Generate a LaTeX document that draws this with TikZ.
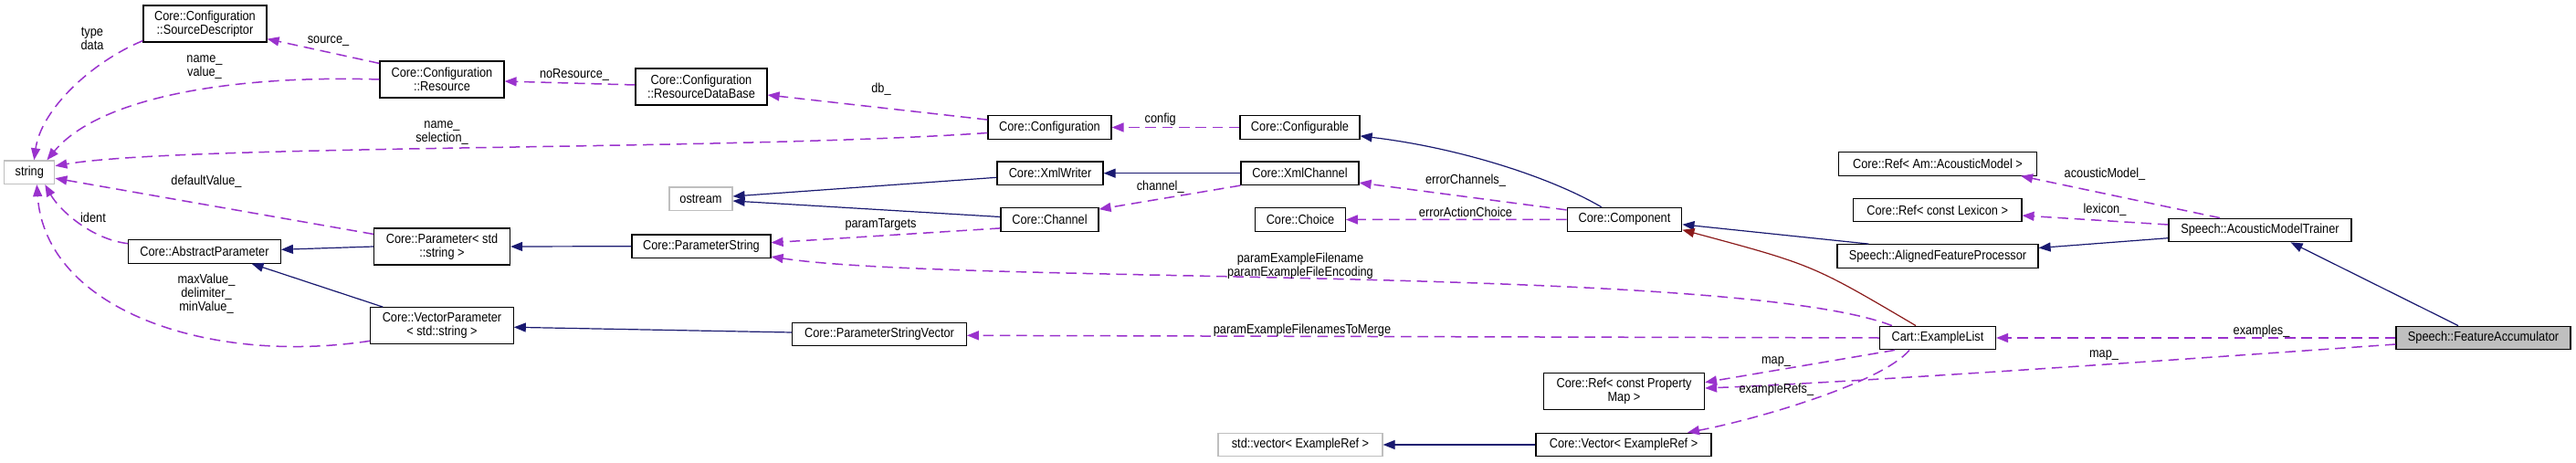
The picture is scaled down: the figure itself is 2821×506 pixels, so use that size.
\documentclass[tikz,border=0pt]{standalone}
\usepackage{fontspec}
\setmainfont[FakeStretch=0.88]{Liberation Sans}
\usetikzlibrary{arrows.meta,calc}
\definecolor{Usage}{HTML}{9A32CD}
\definecolor{Inherit}{HTML}{191970}
\definecolor{Protect}{HTML}{8B1A1A}
\definecolor{Frame}{HTML}{BFBFBF}
\definecolor{Current}{HTML}{BFBFBF}
\newcommand\dxfont{\fontsize{14.5}{15}\selectfont}
\tikzset{cls/.style={rectangle,draw=black,line width=1.2pt,fill=white,align=center,inner sep=0pt,minimum height=25.6,font=\dxfont},twoline/.style={minimum height=40},extcls/.style={cls,draw=Frame},curcls/.style={cls,fill=Current},uses/.style={draw=Usage,line width=1.5pt,dash pattern=on 11.5pt off 6.8pt,-{Triangle[length=13pt,width=10pt]}},inherits/.style={draw=Inherit,line width=1.2pt,-{Triangle[length=13pt,width=10pt]}},protinherits/.style={draw=Protect,line width=1.2pt,-{Triangle[length=13pt,width=10pt]}},lbl/.style={align=center,inner sep=0pt,font=\dxfont,text=black}}

\begin{document}
\begin{tikzpicture}[x=1pt,y=-1pt]
\fill[white] (0,0) rectangle (2821,506);\useasboundingbox (0,0) rectangle (2821,506);
% classes
\node[extcls,minimum width=55] (str) at (32.3,188.7) {string};
\node[cls,twoline,minimum width=135] (SrcD) at (224.5,26) {Core::Configuration\\::SourceDescriptor};
\node[cls,twoline,minimum width=136] (Res) at (484,87) {Core::Configuration\\::Resource};
\node[cls,twoline,minimum width=144] (RDB) at (768,95) {Core::Configuration\\::ResourceDataBase};
\node[cls,minimum width=135] (Conf) at (1149.5,139.5) {Core::Configuration};
\node[cls,minimum width=131] (Cfgb) at (1423.5,139.5) {Core::Configurable};
\node[cls,minimum width=116] (XmlW) at (1150,189.7) {Core::XmlWriter};
\node[cls,minimum width=129] (XmlCh) at (1423.5,189.7) {Core::XmlChannel};
\node[extcls,minimum width=69] (ostr) at (767.5,217.7) {ostream};
\node[cls,minimum width=107] (Chan) at (1149.5,240.5) {Core::Channel};
\node[cls,minimum width=98.5] (Choice) at (1424,240.5) {Core::Choice};
\node[cls,minimum width=125.7] (Comp) at (1779,240.3) {Core::Component};
\node[cls,minimum width=217] (RefAM) at (2122,179.3) {Core::Ref< Am::AcousticModel >};
\node[cls,minimum width=184.4] (RefLex) at (2121.7,230) {Core::Ref< const Lexicon >};
\node[cls,minimum width=200] (AMT) at (2475,252) {Speech::AcousticModelTrainer};
\node[cls,minimum width=220] (AFP) at (2122,280.5) {Speech::AlignedFeatureProcessor};
\node[curcls,minimum width=191] (FA) at (2719.5,370) {Speech::FeatureAccumulator};
\node[cls,minimum width=127] (EL) at (2122,370) {Cart::ExampleList};
\node[cls,twoline,minimum width=176] (RefPM) at (1778.5,428.7) {Core::Ref< const Property\\Map >};
\node[cls,minimum width=192] (Vec) at (1778,487) {Core::Vector< ExampleRef >};
\node[extcls,minimum width=180] (StdVec) at (1424,487) {std::vector< ExampleRef >};
\node[cls,minimum width=152] (PS) at (768,269.7) {Core::ParameterString};
\node[cls,minimum width=190.6] (PSV) at (963,366) {Core::ParameterStringVector};
\node[cls,minimum width=166.6] (AbsP) at (224,275.3) {Core::AbstractParameter};
\node[cls,twoline,minimum width=149] (Param) at (484,270) {Core::Parameter< std\\::string >};
\node[cls,twoline,minimum width=156.4] (VecP) at (484,356.7) {Core::VectorParameter\\< std::string >};
% inheritance
\draw[inherits] ($(Comp.north)+(-25,0)$) .. controls (1700,195) and (1600,162) .. ($(Cfgb.south east)+(0,-4)$);
\draw[inherits] (XmlCh.west) -- (XmlW.east);
\draw[inherits] ($(XmlW.west)+(0,4.6)$) -- ($(ostr.east)+(0,-2.7)$);
\draw[inherits] ($(Chan.west)+(0,-3)$) -- ($(ostr.east)+(0,2.3)$);
\draw[inherits] ($(AFP.north west)+(35,0)$) -- ($(Comp.east)+(0,5.5)$);
\draw[protinherits] ($(EL.north)+(-24,0)$) .. controls (1985,290) .. ($(Comp.south east)+(0,-2)$);
\draw[inherits] (Vec.west) -- (StdVec.east);
\draw[inherits] (PS.west) -- (Param.east);
\draw[inherits] (Param.west) -- ($(AbsP.east)+(0,-2)$);
\draw[inherits] ($(VecP.north west)+(14,0)$) -- ($(AbsP.south)+(51.5,0)$);
\draw[inherits] ($(PSV.west)+(0,-2)$) -- ($(VecP.east)+(0,1.6)$);
\draw[inherits] ($(AMT.west)+(0,8.7)$) -- ($(AFP.east)+(0,-9)$);
\draw[inherits] ($(FA.north)+(-27.5,0)$) -- ($(AMT.south)+(33.6,0)$);
% members
\draw[uses] ($(SrcD.south west)+(0,-2)$) .. controls (100,68) and (45,120) .. ($(str.north)+(5,0)$);
\draw[uses] ($(Res.north west)+(0,3)$) -- ($(SrcD.south east)+(0,-4)$);
\draw[uses] (Res.west) .. controls (260,82) and (110,105) .. ($(str.north east)+(-9,0)$);
\draw[uses] ($(RDB.west)+(0,-2)$) -- ($(Res.east)+(0,2)$);
\draw[uses] ($(Conf.north west)+(0,5)$) -- ($(RDB.east)+(0,9)$);
\draw[uses] ($(Conf.west)+(0,6)$) .. controls (800,165) and (200,158) .. ($(str.east)+(0,-7)$);
\draw[uses] (Cfgb.west) -- (Conf.east);
\draw[uses] (XmlCh.south west) -- ($(Chan.north east)+(0,2)$);
\draw[uses] ($(Chan.south west)+(0,-4)$) -- ($(PS.east)+(0,-4)$);
\draw[uses] ($(Comp.north west)+(0,3)$) -- ($(XmlCh.south east)+(0,-3)$);
\draw[uses] (Comp.west) -- (Choice.east);
\draw[uses] ($(EL.north west)+(14,0)$) .. controls (1900,290) and (1050,312) .. ($(PS.south east)+(0,-2)$);
\draw[uses] (EL.west) -- ($(PSV.east)+(0,1.3)$);
\draw[uses] ($(EL.south west)+(17,0)$) -- ($(RefPM.east)+(0,-10)$);
\draw[uses] ($(EL.south)+(-31,0)$) .. controls (2060,420) and (1920,460) .. ($(Vec.north)+(70,0)$);
\draw[uses] ($(Param.north west)+(0,7)$) -- ($(str.east)+(0,6.5)$);
\draw[uses] ($(AbsP.west)+(0,-8.6)$) .. controls (100,262) and (65,230) .. ($(str.south)+(17,0)$);
\draw[uses] ($(VecP.south west)+(0,-4)$) .. controls (230,400) and (50,340) .. ($(str.south)+(8,0)$);
\draw[uses] ($(AMT.north)+(-44,0)$) -- ($(RefAM.south east)+(-18,0)$);
\draw[uses] ($(AMT.west)+(0,-6)$) -- ($(RefLex.east)+(0,6)$);
\draw[uses] (FA.west) -- (EL.east);
\draw[uses] ($(FA.west)+(0,7)$) .. controls (2300,400) and (2000,420) .. ($(RefPM.east)+(0,-3.7)$);
% member names
\node[lbl] (lTypeData) at (101,42) {type\\data};
\node[lbl] (lSource) at (359.5,45) {source\_};
\node[lbl] (lNameValue) at (224,73.5) {name\_\\value\_};
\node[lbl] (lNoRes) at (629,81.7) {noResource\_};
\node[lbl] (lDb) at (965,98) {db\_};
\node[lbl] (lNameSel) at (484,146) {name\_\\selection\_};
\node[lbl] (lConfig) at (1270.7,130.7) {config};
\node[lbl] (lChannel) at (1270.7,204.3) {channel\_};
\node[lbl] (lParamTargets) at (964.5,246) {paramTargets};
\node[lbl] (lErrChan) at (1605,198) {errorChannels\_};
\node[lbl] (lErrAct) at (1605,232) {errorActionChoice};
\node[lbl] (lDefault) at (226,199) {defaultValue\_};
\node[lbl] (lIdent) at (102,238) {ident};
\node[lbl] (lMinMax) at (226,322) {maxValue\_\\delimiter\_\\minValue\_};
\node[lbl] (lExFile) at (1424,291.7) {paramExampleFilename\\paramExampleFileEncoding};
\node[lbl] (lExMerge) at (1426,361.7) {paramExampleFilenamesToMerge};
\node[lbl] (lMapEL) at (1945,395.7) {map\_};
\node[lbl] (lExRefs) at (1945.4,427) {exampleRefs\_};
\node[lbl] (lAcMod) at (2305,191) {acousticModel\_};
\node[lbl] (lLex) at (2305,230) {lexicon\_};
\node[lbl] (lExamples) at (2476.5,362.3) {examples\_};
\node[lbl] (lMapFA) at (2304,389) {map\_};
\end{tikzpicture}
\end{document}
